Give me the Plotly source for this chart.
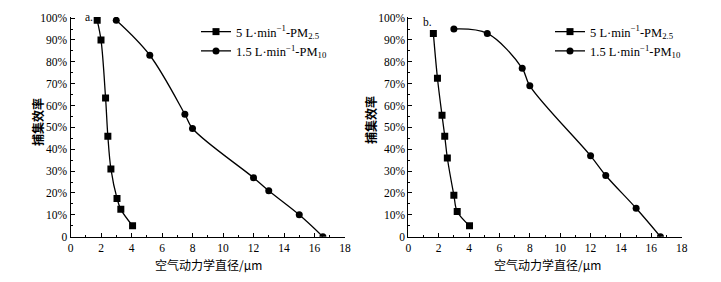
import plotly.graph_objects as go

# Panel a
a_pm25_x = [1.75, 2.0, 2.3, 2.45, 2.65, 3.05, 3.3, 4.07]
a_pm25_y = [99, 90, 63.5, 46, 31, 17.5, 12.5, 5]
a_pm10_x = [3.0, 5.2, 7.5, 8.0, 12.0, 13.0, 15.0, 16.55]
a_pm10_y = [99, 83, 56, 49.5, 27, 21, 10, 0]

# Panel b
b_pm25_x = [1.65, 1.92, 2.22, 2.4, 2.57, 3.0, 3.22, 4.03]
b_pm25_y = [93, 72.5, 55.5, 46, 36, 19, 11.5, 5]
b_pm10_x = [3.0, 5.2, 7.5, 8.0, 12.0, 13.0, 15.0, 16.6]
b_pm10_y = [95, 93, 77, 69, 37, 28, 13, 0]

name_pm25 = "5 L·min<sup>−1</sup>-PM<sub>2.5</sub>"
name_pm10 = "1.5 L·min<sup>−1</sup>-PM<sub>10</sub>"

y_tickvals = [0, 10, 20, 30, 40, 50, 60, 70, 80, 90, 100]
y_ticktext = ["0", "10%", "20%", "30%", "40%", "50%", "60%", "70%", "80%", "90%", "100%"]
x_tickvals = [0, 2, 4, 6, 8, 10, 12, 14, 16, 18]

x_title = "空气动力学直径/μm"
y_title = "<b>捕集效率</b>"

SERIF = "Liberation Serif"
CJK = "Noto Sans CJK SC"

fig = go.Figure()

def add(x, y, sym, name, xa, ya, legend):
    fig.add_trace(go.Scatter(
        x=x, y=y, mode="lines+markers", name=name,
        xaxis=xa, yaxis=ya, legend=legend,
        line=dict(color="black", width=1.3, shape="spline", smoothing=1.0),
        marker=dict(symbol=sym, size=7, color="black"),
    ))

add(a_pm25_x, a_pm25_y, "square", name_pm25, "x", "y", "legend")
add(a_pm10_x, a_pm10_y, "circle", name_pm10, "x", "y", "legend")
add(b_pm25_x, b_pm25_y, "square", name_pm25, "x2", "y2", "legend2")
add(b_pm10_x, b_pm10_y, "circle", name_pm10, "x2", "y2", "legend2")

# the page body has an 8px margin, so the figure is offset by 8px
OFF = 8
W, H = 721 - OFF, 282 - OFF

def px(x):
    return (x - OFF) / W

def py(y):
    return (H - (y - OFF)) / H

yd = [py(236.7), py(17.0)]

tfont = dict(family=SERIF, size=11.5, color="black")

common_x = dict(
    range=[0, 18], tickvals=x_tickvals, ticks="inside", ticklen=4, tickwidth=1,
    tickcolor="black", showline=True, linecolor="black", linewidth=1,
    showgrid=False, zeroline=False, tickfont=tfont,
    minor=dict(ticks="inside", ticklen=2, tickcolor="black", dtick=1, tick0=0, showgrid=False),
    automargin=False, fixedrange=True,
)
common_y = dict(
    range=[0, 100.5], tickvals=y_tickvals, ticktext=y_ticktext, ticks="inside", ticklen=4,
    tickwidth=1, tickcolor="black", showline=True, linecolor="black", linewidth=1,
    showgrid=False, zeroline=False, tickfont=tfont,
    minor=dict(ticks="inside", ticklen=2, tickcolor="black", dtick=5, tick0=0, showgrid=False),
    domain=yd, automargin=False, fixedrange=True,
)

legend_common = dict(
    font=dict(family=SERIF, size=12.5, color="black"), bgcolor="rgba(0,0,0,0)",
    borderwidth=0, itemwidth=30, tracegroupgap=0, xanchor="left", yanchor="top",
    itemclick=False, itemdoubleclick=False, xref="paper", yref="paper",
)

def note(text, x, y, font, angle=0):
    return dict(text=text, xref="paper", yref="paper", x=x, y=y, xanchor="center",
                yanchor="middle", showarrow=False, textangle=angle, font=font)

cjk_font = dict(family=CJK, size=12, color="black")

fig.update_layout(
    width=W, height=H,
    margin=dict(l=0, r=0, t=0, b=0),
    paper_bgcolor="white", plot_bgcolor="white",
    showlegend=True,
    xaxis=dict(common_x, domain=[px(70.5), px(345)], anchor="y"),
    yaxis=dict(common_y, anchor="x"),
    xaxis2=dict(common_x, domain=[px(408.3), px(681.7)], anchor="y2"),
    yaxis2=dict(common_y, anchor="x2"),
    legend=dict(legend_common, x=px(196), y=py(17)),
    legend2=dict(legend_common, x=px(550), y=py(17)),
    annotations=[
        dict(text="a.", xref="x domain", yref="y domain", x=0.045, y=1.0, xanchor="left",
             yanchor="middle", showarrow=False, font=tfont),
        dict(text="b.", xref="x2 domain", yref="y2 domain", x=0.045, y=0.975, xanchor="left",
             yanchor="middle", showarrow=False, font=tfont),
        note(x_title, px(208), py(264), cjk_font),
        note(x_title, px(547), py(264), cjk_font),
        note(y_title, px(37), py(122), cjk_font, -90),
        note(y_title, px(371), py(120), cjk_font, -90),
    ],
)

fig.write_html("out.html")
